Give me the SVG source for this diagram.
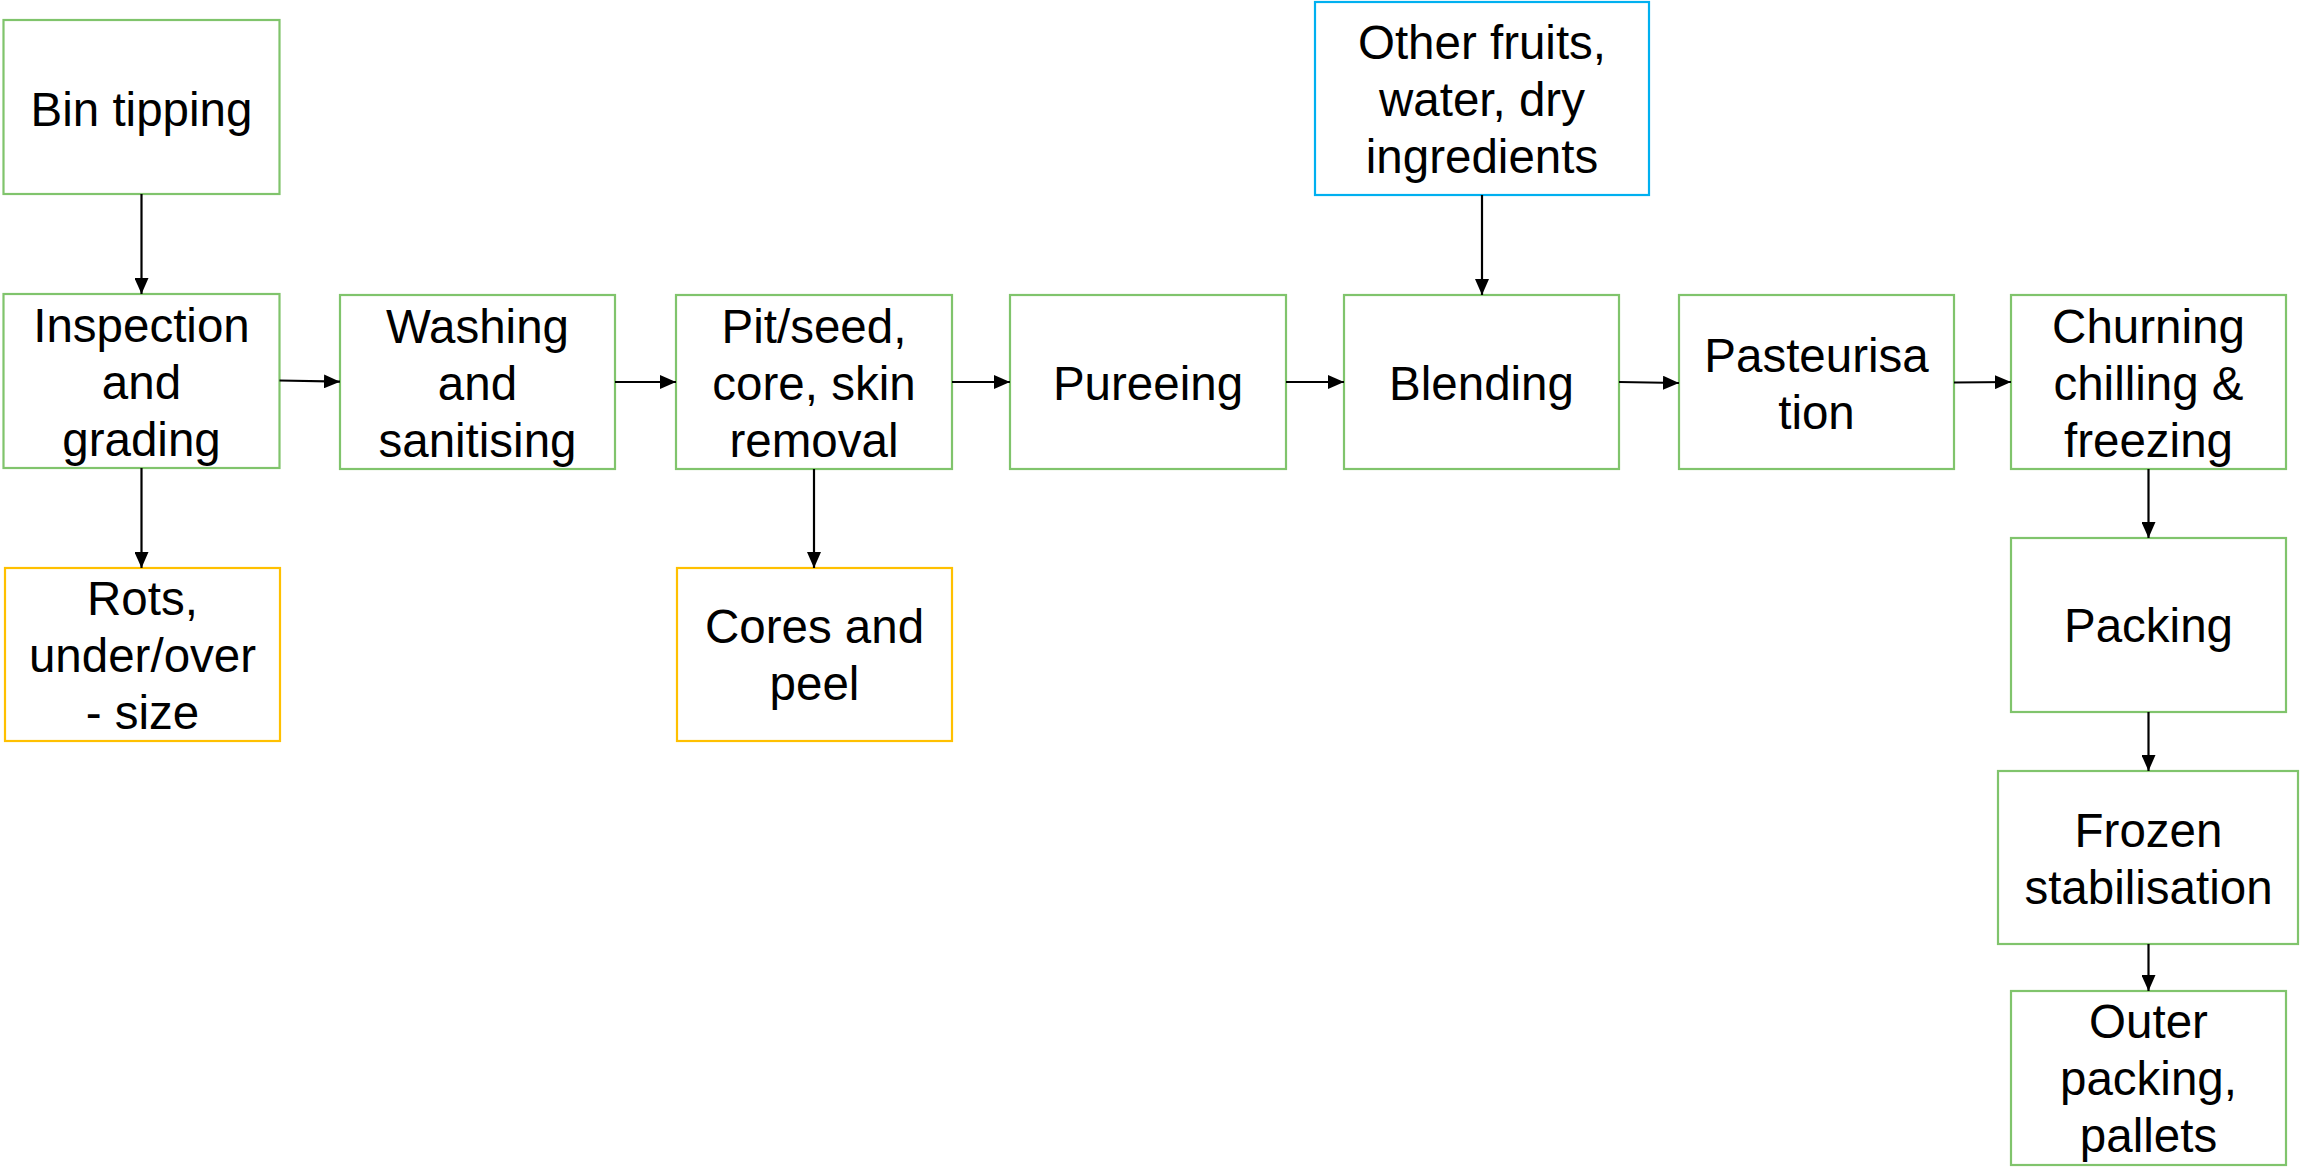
<svg xmlns="http://www.w3.org/2000/svg" width="2300" height="1168" viewBox="0 0 2300 1168">
  <defs>
    <style>
      .box { fill: #ffffff; stroke-width: 2.2; }
      .step { stroke: #80C46C; }
      .waste { stroke: #FFC000; }
      .input { stroke: #00B0F0; }
      .label { font-family: "Liberation Sans", Arial, sans-serif; font-size: 47.5px; fill: #000000; text-anchor: middle; }
      .link { stroke: #000000; stroke-width: 2.2; fill: none; marker-end: url(#arrow); }
    </style>
    <marker id="arrow" markerUnits="userSpaceOnUse" markerWidth="16" markerHeight="14" refX="16" refY="7" orient="auto">
      <path d="M0,0 L16,7 L0,14 z" fill="#000000"/>
    </marker>
  </defs>
  <rect width="2300" height="1168" fill="#ffffff"/>

  <!-- process steps -->
  <g id="bin-tipping">
    <rect class="box step" x="3.5" y="20" width="276" height="174"/>
    <text class="label" x="141.5" y="126">Bin tipping</text>
  </g>
  <g id="inspection-grading">
    <rect class="box step" x="3.5" y="294" width="276" height="174"/>
    <text class="label" x="141.5" y="342">Inspection</text>
    <text class="label" x="141.5" y="399">and</text>
    <text class="label" x="141.5" y="456">grading</text>
  </g>
  <g id="rots">
    <rect class="box waste" x="5" y="568" width="275" height="173"/>
    <text class="label" x="142.5" y="615">Rots,</text>
    <text class="label" x="142.5" y="672">under/over</text>
    <text class="label" x="142.5" y="729">- size</text>
  </g>
  <g id="washing">
    <rect class="box step" x="340" y="295" width="275" height="174"/>
    <text class="label" x="477.5" y="343">Washing</text>
    <text class="label" x="477.5" y="400">and</text>
    <text class="label" x="477.5" y="457">sanitising</text>
  </g>
  <g id="pit-removal">
    <rect class="box step" x="676" y="295" width="276" height="174"/>
    <text class="label" x="814" y="343">Pit/seed,</text>
    <text class="label" x="814" y="400">core, skin</text>
    <text class="label" x="814" y="457">removal</text>
  </g>
  <g id="cores-peel">
    <rect class="box waste" x="677" y="568" width="275" height="173"/>
    <text class="label" x="814.5" y="643">Cores and</text>
    <text class="label" x="814.5" y="700">peel</text>
  </g>
  <g id="pureeing">
    <rect class="box step" x="1010" y="295" width="276" height="174"/>
    <text class="label" x="1148" y="400">Pureeing</text>
  </g>
  <g id="other-ingredients">
    <rect class="box input" x="1315" y="2" width="334" height="193"/>
    <text class="label" x="1482" y="59">Other fruits,</text>
    <text class="label" x="1482" y="116">water, dry</text>
    <text class="label" x="1482" y="173">ingredients</text>
  </g>
  <g id="blending">
    <rect class="box step" x="1344" y="295" width="275" height="174"/>
    <text class="label" x="1481.5" y="400">Blending</text>
  </g>
  <g id="pasteurisation">
    <rect class="box step" x="1679" y="295" width="275" height="174"/>
    <text class="label" x="1816.5" y="372">Pasteurisa</text>
    <text class="label" x="1816.5" y="429">tion</text>
  </g>
  <g id="churning">
    <rect class="box step" x="2011" y="295" width="275" height="174"/>
    <text class="label" x="2148.5" y="343">Churning</text>
    <text class="label" x="2148.5" y="400">chilling &amp;</text>
    <text class="label" x="2148.5" y="457">freezing</text>
  </g>
  <g id="packing">
    <rect class="box step" x="2011" y="538" width="275" height="174"/>
    <text class="label" x="2148.5" y="642">Packing</text>
  </g>
  <g id="frozen-stabilisation">
    <rect class="box step" x="1998" y="771" width="300" height="173"/>
    <text class="label" x="2148.5" y="847">Frozen</text>
    <text class="label" x="2148.5" y="904">stabilisation</text>
  </g>
  <g id="outer-packing">
    <rect class="box step" x="2011" y="991" width="275" height="174"/>
    <text class="label" x="2148.5" y="1038">Outer</text>
    <text class="label" x="2148.5" y="1095">packing,</text>
    <text class="label" x="2148.5" y="1152">pallets</text>
  </g>

  <!-- flow connectors -->
  <g id="connectors">
    <line class="link" x1="141.5" y1="194" x2="141.5" y2="294"/>
    <line class="link" x1="141.5" y1="468" x2="141.5" y2="568"/>
    <line class="link" x1="279.5" y1="380.5" x2="340" y2="381.7"/>
    <line class="link" x1="615" y1="382" x2="676" y2="382"/>
    <line class="link" x1="814" y1="469" x2="814" y2="568"/>
    <line class="link" x1="952" y1="382" x2="1010" y2="382"/>
    <line class="link" x1="1286" y1="382" x2="1344" y2="382"/>
    <line class="link" x1="1482" y1="195" x2="1482" y2="295"/>
    <line class="link" x1="1619" y1="382" x2="1679" y2="383"/>
    <line class="link" x1="1954" y1="382.5" x2="2011" y2="382"/>
    <line class="link" x1="2148.5" y1="469" x2="2148.5" y2="538"/>
    <line class="link" x1="2148.5" y1="712" x2="2148.5" y2="771"/>
    <line class="link" x1="2148.5" y1="944" x2="2148.5" y2="991"/>
  </g>
</svg>
